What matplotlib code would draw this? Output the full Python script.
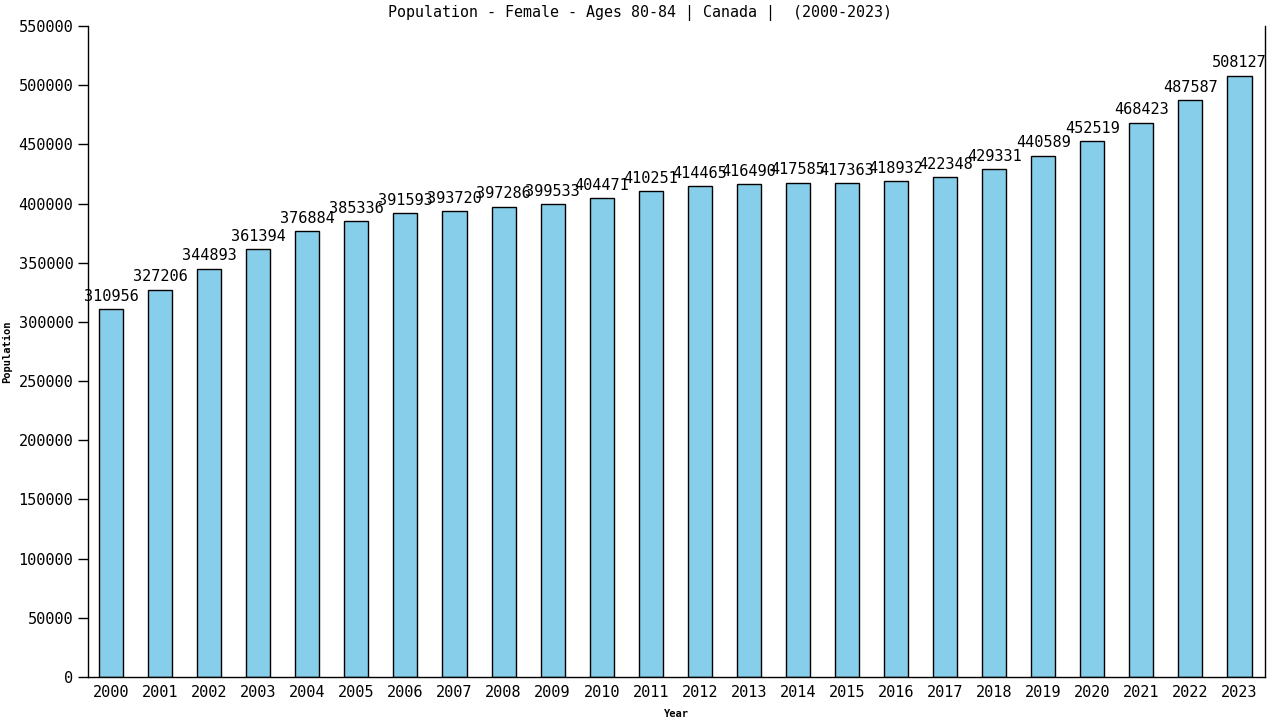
import matplotlib
matplotlib.use("Agg")
import matplotlib.pyplot as plt

years = [str(y) for y in range(2000, 2024)]
population = [310956, 327206, 344893, 361394, 376884, 385336, 391593, 393720,
              397286, 399533, 404471, 410251, 414465, 416490, 417585, 417363,
              418932, 422348, 429331, 440589, 452519, 468423, 487587, 508127]
yticks = list(range(0, 550001, 50000))

plt.rcParams['font.family'] = ['DejaVu Sans Mono']

fig = plt.figure(figsize=(12.8, 7.2), dpi=100)
ax = fig.add_axes([88/1280, 43/720, (1265-88)/1280, (677-26)/720])

x = list(range(len(years)))
ax.bar(x, population, width=0.49, color='#87CEEB', edgecolor='black', linewidth=1)
for xi, v in zip(x, population):
    ax.text(xi, v + 4500, str(v), ha='center', va='bottom', fontsize=11)

ax.set_xlim(-0.47, 23.52)
ax.set_ylim(0, 550000)
ax.set_xticks(x)
ax.set_xticklabels(years, fontsize=11)
ax.set_yticks(yticks)
ax.set_yticklabels([str(t) for t in yticks], fontsize=11)
ax.tick_params(axis='x', length=0, pad=6)
ax.tick_params(axis='y', length=7, direction='out', width=1)
for s in ['left', 'bottom', 'right']:
    ax.spines[s].set_linewidth(1)
ax.spines['top'].set_visible(False)

fig.text(0.5, 1 - 13/720, 'Population - Female - Ages 80-84 | Canada |  (2000-2023)',
         fontsize=10.8, ha='center', va='center')
ax.set_xlabel('Year', fontsize=7.5, fontweight='bold')
ax.set_ylabel('Population', fontsize=7.5, fontweight='bold')
ax.xaxis.set_label_coords(0.5, -(709 - 677) / 651)
ax.yaxis.set_label_coords(-(88 - 12) / 1177, 0.5)

fig.savefig('out.png', dpi=100)
